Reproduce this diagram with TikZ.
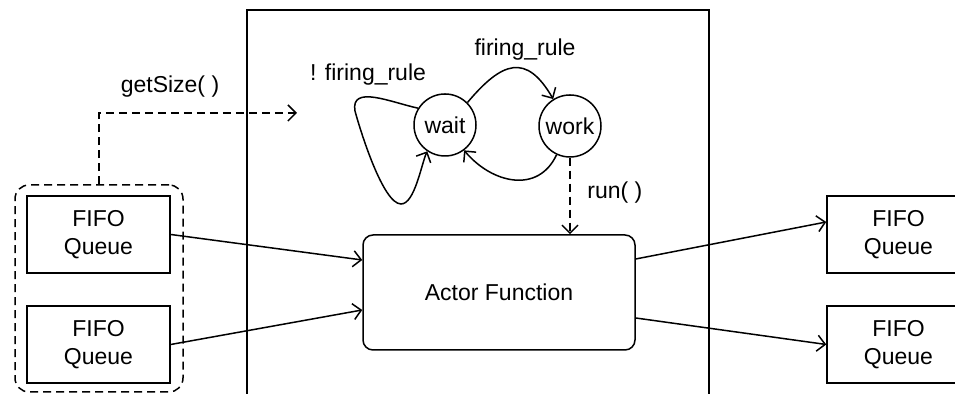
\documentclass[tikz,border=0pt]{standalone}
\usepackage{fontspec}
\setmainfont{Liberation Sans}
\usetikzlibrary{arrows.meta,calc}

\begin{document}
\begin{tikzpicture}[x=0.5pt,y=0.5pt,
  every node/.style={font=\fontsize{11.5}{14}\selectfont},
  ince/.style={line width=0.75pt},
  okUcu/.style={-{Straight Barb[length=4pt,width=8pt]}},
  kesikli/.style={dash pattern=on 4pt off 2.5pt},
  fifoKutu/.style={draw,ince,minimum width=71.5pt,minimum height=38.5pt,align=center,inner sep=0pt},
  durum/.style={draw,ince,circle,minimum size=31pt,inner sep=0pt},
  aktorKutu/.style={draw,ince,rounded corners=5pt,minimum width=136pt,minimum height=57.5pt}]
\useasboundingbox (0,0) rectangle (955,394);
% aktor siniri (alt kenar sayfa disinda)
\draw[line width=1.4pt] (247,-20) rectangle (709,384);
\node[draw,ince,kesikli,rounded corners=7pt,minimum width=84pt,minimum height=103.5pt] (grup) at (99,105.5) {};
\node[fifoKutu] (qL1) at (98.5,159.5) {FIFO\\Queue};
\node[fifoKutu] (qL2) at (98.5,49.5) {FIFO\\Queue};
\node[fifoKutu] (qR1) at (898.5,159.5) {FIFO\\Queue};
\node[fifoKutu] (qR2) at (898.5,49.5) {FIFO\\Queue};
\node[aktorKutu] (aktor) at (499,101.5) {Actor Function};
\node[durum] (wait) at (445,269) {wait};
\node[durum] (work) at (570,268) {work};
\node (lGetSize) at (170,307) {getSize( )};
\node (lAtesle) at (525,344) {firing\_rule};
\node (lDegil) at (368,319) {! firing\_rule};
\node[anchor=west,inner sep=0pt] (lRun) at (587,201) {run( )};
\coordinate (gsUc) at (297,281);
% veri akisi
\draw[ince,okUcu] (qL1.east) -- ([yshift=16.25pt]aktor.west);
\draw[ince,okUcu] (qL2.east) -- ([yshift=-8.75pt]aktor.west);
\draw[ince,okUcu] ([yshift=16.75pt]aktor.east) -- ([yshift=6.25pt]qR1.west);
\draw[ince,okUcu] ([yshift=-12.75pt]aktor.east) -- (qR2.west);
\draw[ince,kesikli,okUcu] (grup.north) |- (gsUc);
\draw[ince,kesikli,okUcu] (work.south) -- (work.south |- aktor.north);
% durum gecisleri
\draw[ince,okUcu] (wait.45) to[out=50,in=120,looseness=1.6] (work.122);
\draw[ince,okUcu] (work.245) to[out=-115,in=-50,looseness=1.2] (wait.307);
\draw[ince,okUcu] (wait.148) to[out=168,in=100,looseness=1.1] (355,283) to[out=-75,in=180,looseness=0.45] (401,190) to[out=0,in=245,looseness=0.6] (wait.236);
\end{tikzpicture}
\end{document}
